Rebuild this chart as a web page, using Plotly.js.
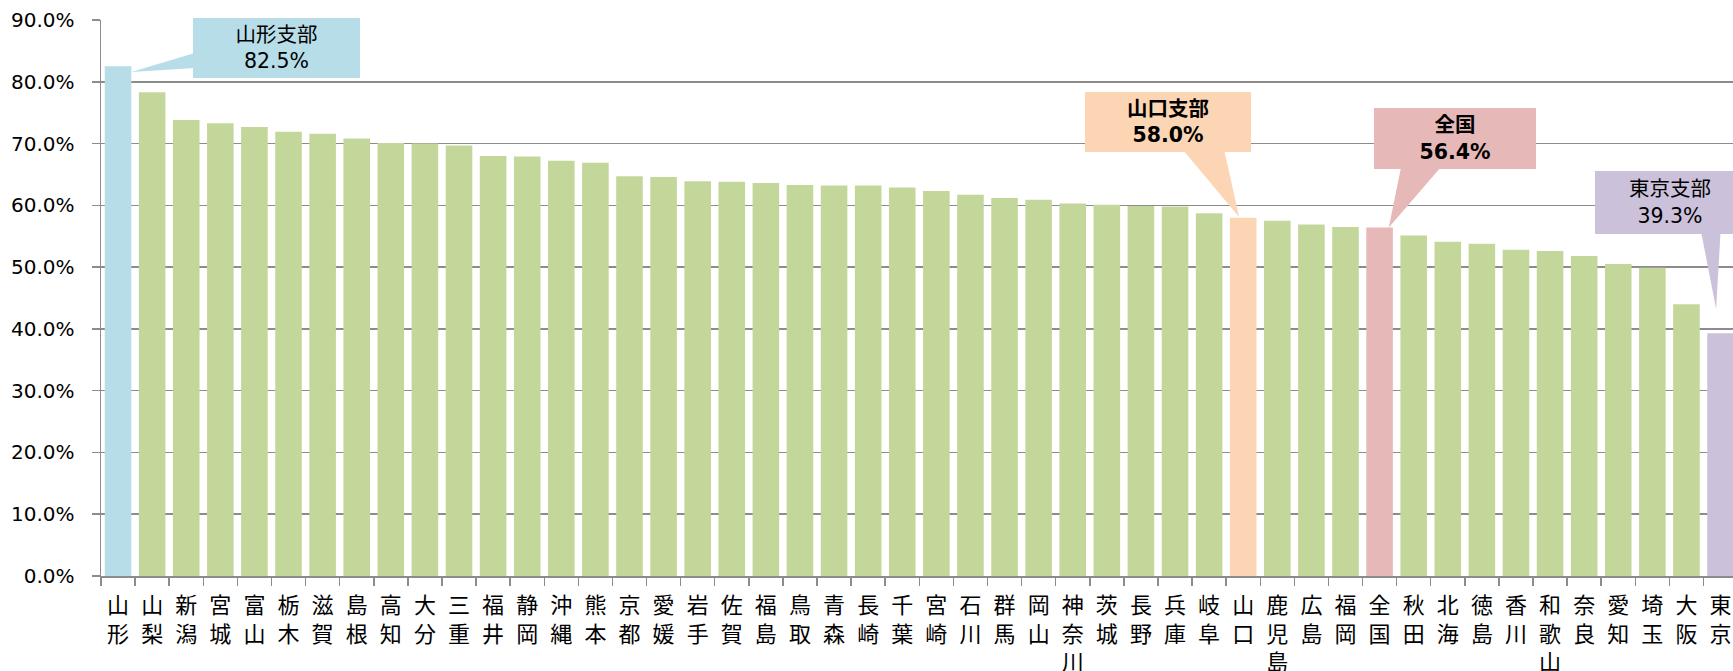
<!DOCTYPE html>
<html><head><meta charset="utf-8">
<script src="https://cdn.plot.ly/plotly-3.0.1.min.js"></script>
<style>html,body{margin:0;padding:0;overflow:hidden;background:#fff;width:1733px;height:671px}</style>
</head><body><div id="chart"></div>
<script>
const categories = ['山形','山梨','新潟','宮城','富山','栃木','滋賀','島根','高知','大分','三重','福井','静岡','沖縄','熊本','京都','愛媛','岩手','佐賀','福島','鳥取','青森','長崎','千葉','宮崎','石川','群馬','岡山','神奈川','茨城','長野','兵庫','岐阜','山口','鹿児島','広島','福岡','全国','秋田','北海','徳島','香川','和歌山','奈良','愛知','埼玉','大阪','東京'];
const values = [82.5,78.3,73.8,73.3,72.7,71.9,71.6,70.8,70.1,70.0,69.7,68.0,67.9,67.2,66.9,64.7,64.6,63.9,63.8,63.6,63.3,63.2,63.2,62.9,62.3,61.7,61.2,60.9,60.3,60.1,59.9,59.8,58.7,58.0,57.5,56.9,56.5,56.4,55.1,54.1,53.8,52.8,52.6,51.8,50.5,49.9,44.0,39.3];
const yTickVals = [0,10,20,30,40,50,60,70,80,90];
const highlightColors = {'山形':'#B7DDE8','山口':'#FCD5B4','全国':'#E6B9B8','東京':'#CCC1DA'};
const baseColor = '#C4D79B';

// stacked vertical labels
const labels = categories.map(c => c.split('').join('<br>'));
const colors = categories.map(c => highlightColors[c] || baseColor);

const callouts = [
  {cat:'山形', title:'山形支部', bold:false, tip:[0.39,-0.9], base:[[2.25,84.66],[2.25,82.23]], center:[4.65,85.46], w:167, h:60},
  {cat:'山口', title:'山口支部', bold:true,  tip:[-0.12,0.1], base:[[31.23,69.0],[32.44,69.0]], center:[30.8,73.49], w:166, h:60},
  {cat:'全国', title:'全国',     bold:true,  tip:[0.27,0.0], base:[[37.63,66.2],[38.80,66.2]], center:[39.22,70.8], w:162, h:61},
  {cat:'東京', title:'東京支部', bold:false, tip:[-0.13,3.9], base:[[46.43,55.7],[47.0,55.7]], center:[45.52,60.46], w:150, h:63}
];

const shapes = [], annotations = [];
callouts.forEach(c => {
  const i = categories.indexOf(c.cat);
  const v = values[i];
  const tx = i + c.tip[0], ty = v + c.tip[1];
  shapes.push({type:'path', xref:'x', yref:'y',
    path:`M ${tx} ${ty} L ${c.base[0][0]} ${c.base[0][1]} L ${c.base[1][0]} ${c.base[1][1]} Z`,
    fillcolor: highlightColors[c.cat], line:{width:0}, layer:'above'});
  let body = `${c.title}<br>${v.toFixed(1)}%`;
  if (c.bold) body = `<b>${body}</b>`;
  annotations.push({xref:'x', yref:'y', x:c.center[0], y:c.center[1], text:body, showarrow:false,
    width:c.w, height:c.h, bgcolor:highlightColors[c.cat], borderpad:0, borderwidth:0,
    align:'center', valign:'middle',
    font:{family:'DejaVu Sans, Noto Sans CJK JP', size:20.5, color:'#000'}});
});

const trace = {type:'bar', x:labels, y:values, marker:{color:colors, line:{width:0}}, hoverinfo:'skip'};

const layout = {
  width:1733, height:671,
  margin:{l:101, r:0, t:20, b:95},
  paper_bgcolor:'#fff', plot_bgcolor:'#fff',
  bargap:0.22, showlegend:false,
  font:{family:'DejaVu Sans, Noto Sans CJK JP', color:'#000'},
  xaxis:{type:'category', range:[-0.5, 47.365], showline:true, linecolor:'#8c8c8c', linewidth:1.5,
    ticks:'outside', tickson:'boundaries', ticklen:8, tickcolor:'#8c8c8c', tickwidth:1.5,
    showgrid:false, tickangle:0, ticklabelstandoff:9,
    tickfont:{family:'Noto Sans CJK JP', size:22, color:'#000'}},
  yaxis:{range:[0,90], tickvals:yTickVals, ticktext:yTickVals.map(v=>v.toFixed(1)+'%'),
    showline:true, linecolor:'#8c8c8c', linewidth:1.5,
    ticks:'outside', ticklen:8, tickcolor:'#8c8c8c', tickwidth:1.5,
    showgrid:true, gridcolor:'#8c8c8c', gridwidth:1.5, zeroline:false,
    ticklabelstandoff:13, tickfont:{family:'DejaVu Sans', size:20, color:'#000'}},
  shapes:shapes, annotations:annotations
};
Plotly.newPlot('chart', [trace], layout, {staticPlot:true, displayModeBar:false});
</script></body></html>
